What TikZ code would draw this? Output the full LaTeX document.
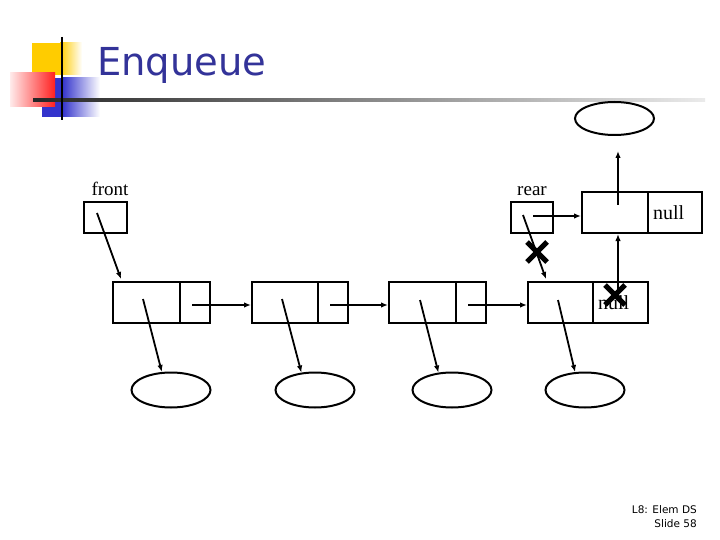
\documentclass[tikz,border=0pt]{standalone}
\usepackage{fontspec}
\setmainfont{Liberation Serif}
\newfontfamily\titlefont{DejaVu Sans}
\usetikzlibrary{arrows.meta,calc,shapes.geometric}
\definecolor{titleblue}{HTML}{333399}
\definecolor{logoyellow}{HTML}{FFCC00}
\definecolor{logoblue}{HTML}{3333CC}
\definecolor{logored}{HTML}{FF2020}
\tikzset{
  cell/.style={draw, line width=2pt, rectangle, inner sep=0pt, minimum height=41pt},
  nullcell/.style={cell, inner xsep=5pt, align=left, font=\fontsize{20}{22}\selectfont},
  ptrbox/.style={draw, line width=2pt, rectangle, inner sep=0pt, minimum height=31pt},
  obj/.style={draw, line width=2pt, ellipse, inner sep=0pt, minimum width=79pt, minimum height=35pt},
  lbl/.style={font=\fontsize{19}{21}\selectfont, inner sep=0pt},
  ptr/.style={line width=1.8pt, -{Latex[length=7pt,width=5.5pt]}},
  xmark/.style={line width=5pt},
}
\begin{document}
\begin{tikzpicture}[x=1pt,y=-1pt]
\useasboundingbox[fill=white] (0,0) rectangle (720,540);

% logo
\fill[logoyellow] (32,43) rectangle (60,75);
\shade[left color=logoyellow, right color=white] (60,43) rectangle (82,75);
\fill[logoblue] (42,78) rectangle (62,117);
\shade[left color=logoblue, right color=white] (62,78) rectangle (100,117);
\shade[left color=red!8, right color=logored] (10,73) rectangle (55,107);
\shade[left color=black!85, right color=black!8] (33,98.5) rectangle (705,101.5);
\draw[line width=2pt] (62,37) -- (62,120);
\node[anchor=base west, inner sep=0pt, text=titleblue, font=\titlefont\fontsize{38.5}{40}\selectfont] (title) at (97,76) {Enqueue};

% list cells
\node[cell, minimum width=67pt] (d1) at (146.5,302.5) {};
\node[cell, minimum width=30pt] (n1) at (195,302.5) {};
\node[cell, minimum width=66pt] (d2) at (285,302.5) {};
\node[cell, minimum width=30pt] (n2) at (333,302.5) {};
\node[cell, minimum width=67pt] (d3) at (422.5,302.5) {};
\node[cell, minimum width=30pt] (n3) at (471,302.5) {};
\node[cell, minimum width=65pt] (d4) at (560.5,302.5) {};
\node[nullcell, text width=45pt] (n4) at (620.5,302.5) {null};
\node[cell, minimum width=66pt] (nd) at (615,212.5) {};
\node[nullcell, text width=44pt] (nn) at (675,212.5) {null};

% pointer boxes
\node[ptrbox, minimum width=43pt] (fb) at (105.5,217.5) {};
\node[ptrbox, minimum width=42pt] (rb) at (532,217.5) {};
\node[lbl, anchor=base] (flbl) at (110,196) {front};
\node[lbl, anchor=base] (rlbl) at (532,196) {rear};

% data objects
\node[obj] (e1) at (171,390) {};
\node[obj] (e2) at (315,390) {};
\node[obj] (e3) at (452,390) {};
\node[obj] (e4) at (585,390) {};
\node[obj, minimum height=33pt] (et) at (614.5,118.5) {};

% coordinates
\coordinate (s1) at (143,299);
\coordinate (s2) at (282,299);
\coordinate (s3) at (420,300);
\coordinate (s4) at (558,300);
\coordinate (p1) at (192,305);
\coordinate (p2) at (330,305);
\coordinate (p3) at (468,305);
\coordinate (f0) at (97,213);
\coordinate (r0) at (523,215);
\coordinate (r1) at (533,216);
\coordinate (u0) at (618,297);
\coordinate (u1) at (618,205);
\coordinate (x1) at (537,252);
\coordinate (x2) at (615,295);

% connectors
\draw[ptr] (s1) -- (e1.117);
\draw[ptr] (s2) -- (e2.128);
\draw[ptr] (s3) -- (e3.128);
\draw[ptr] (s4) -- (e4.119);
\draw[ptr] (p1) -- (p1 -| d2.west);
\draw[ptr] (p2) -- (p2 -| d3.west);
\draw[ptr] (p3) -- (p3 -| d4.west);
\draw[ptr] (f0) -- ($(d1.north west)+(9,-2)$);
\draw[ptr] (r0) -- ($(d4.north west)+(19,-2)$);
\draw[ptr] (r1) -- (r1 -| nd.west);
\draw[ptr] (u0) -- (u0 |- nd.south);
\draw[ptr, shorten >=15pt] (u1) -- (u1 |- et.south);

% crosses
\draw[xmark] ($(x1)+(-10,-10)$) -- ($(x1)+(10,10)$);
\draw[xmark] ($(x1)+(-10,10)$) -- ($(x1)+(10,-10)$);
\draw[xmark] ($(x2)+(-10,-10)$) -- ($(x2)+(10,10)$);
\draw[xmark] ($(x2)+(-10,10)$) -- ($(x2)+(10,-10)$);

% footer
\node[anchor=base east, inner sep=0pt, align=right, font=\titlefont\fontsize{10.5}{14}\selectfont] (foot) at (697,527) {L8: Elem DS\\Slide 58};
\end{tikzpicture}
\end{document}
